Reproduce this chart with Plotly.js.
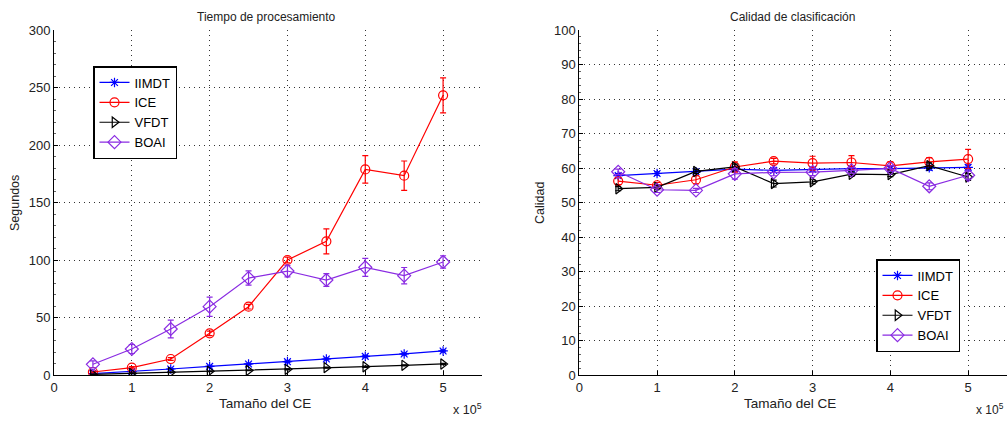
<!DOCTYPE html>
<html>
<head>
<meta charset="utf-8">
<script src="https://cdn.plot.ly/plotly-3.0.1.min.js"></script>
<style>html,body{margin:0;padding:0;background:#fff;} #chart{width:1007px;height:421px;}</style>
</head>
<body>
<div id="chart"></div>
<script>
// ---- data ----
const sizes = [0.5, 1, 1.5, 2, 2.5, 3, 3.5, 4, 4.5, 5];
const seriesNames = ['IIMDT', 'ICE', 'VFDT', 'BOAI'];

const tiempoIIMDT = [1.2, 2.9, 5.2, 7.5, 9.6, 11.6, 13.9, 16.2, 18.3, 20.9];
const tiempoICE   = [2.6, 6.4, 13.9, 36.2, 59.4, 100.0, 116.2, 178.8, 173.3, 243.2];
const tiempoVFDT  = [0.5, 1.4, 2.3, 3.2, 4.0, 4.9, 6.4, 7.2, 8.4, 9.6];
const tiempoBOAI  = [9.3, 22.6, 40.0, 59.4, 84.3, 90.4, 82.6, 93.6, 86.4, 98.3];

const tiempoErrIIMDT = [0.3, 0.4, 0.5, 0.5, 0.6, 0.6, 0.7, 0.7, 0.8, 0.8];
const tiempoErrICE   = [0.8, 1.0, 1.2, 2.0, 2.0, 2.5, 10.9, 12.0, 12.8, 15.2];
const tiempoErrVFDT  = [0.2, 0.2, 0.3, 0.3, 0.3, 0.4, 0.4, 0.5, 0.5, 0.5];
const tiempoErrBOAI  = [3.0, 3.9, 7.7, 8.4, 6.2, 5.0, 5.5, 7.8, 7.1, 5.4];

const calidadIIMDT = [57.8, 58.4, 58.9, 59.7, 59.3, 59.6, 59.8, 59.8, 60.1, 60.2];
const calidadICE   = [56.2, 55.0, 56.6, 60.3, 62.0, 61.4, 61.6, 60.6, 61.8, 62.6];
const calidadVFDT  = [54.0, 54.4, 59.0, 60.3, 55.5, 56.0, 58.2, 58.1, 60.7, 57.4];
const calidadBOAI  = [58.9, 53.7, 53.5, 58.3, 58.75, 58.8, 59.3, 59.9, 54.7, 57.9];

const calidadErrIIMDT = [0.6, 0.5, 0.5, 0.6, 0.6, 0.5, 0.6, 0.6, 0.7, 0.7];
const calidadErrICE   = [1.0, 0.8, 1.2, 1.5, 0.8, 2.0, 2.0, 1.2, 1.2, 2.8];
const calidadErrVFDT  = [0.6, 0.6, 0.6, 0.8, 1.0, 0.6, 0.6, 0.6, 0.8, 1.0];
const calidadErrBOAI  = [0.8, 0.8, 0.6, 1.5, 1.0, 1.0, 0.8, 0.8, 1.0, 1.2];

const xTickVals = [0, 1, 2, 3, 4, 5];
const tiempoTicks = [0, 50, 100, 150, 200, 250, 300];
const calidadTicks = [0, 10, 20, 30, 40, 50, 60, 70, 80, 90, 100];

// ---- styles ----
const colors = ['#0000ff', '#ff0000', '#000000', '#8a2be2'];
const symbols = ['asterisk-open', 'circle-open', 'triangle-right-open', 'diamond-open'];
const msizes = [8, 9, 9, 10];

const tiempoY = [tiempoIIMDT, tiempoICE, tiempoVFDT, tiempoBOAI];
const tiempoE = [tiempoErrIIMDT, tiempoErrICE, tiempoErrVFDT, tiempoErrBOAI];
const calidadY = [calidadIIMDT, calidadICE, calidadVFDT, calidadBOAI];
const calidadE = [calidadErrIIMDT, calidadErrICE, calidadErrVFDT, calidadErrBOAI];

const traces = [];
function addTraces(ys, es, xa, ya, leg) {
  for (let i = 0; i < 4; i++) {
    traces.push({
      type: 'scatter', mode: 'lines+markers',
      x: sizes, y: ys[i], name: seriesNames[i],
      xaxis: xa, yaxis: ya, legend: leg,
      line: {color: colors[i], width: 1.2},
      marker: {symbol: symbols[i], size: msizes[i], color: colors[i], line: {color: colors[i], width: 1.2}},
      error_y: {type: 'data', array: es[i], visible: true, color: colors[i], thickness: 1.2, width: 3}
    });
  }
}
addTraces(tiempoY, tiempoE, 'x', 'y', 'legend');
addTraces(calidadY, calidadE, 'x2', 'y2', 'legend2');

const W = 1007, H = 421;
const plotTop = 30, plotBottom = 375;
const yd = [1 - plotBottom / H, 1 - plotTop / H];
const fontFam = 'Liberation Sans, Arial, Helvetica, sans-serif';

function xax(dom) {
  return {
    domain: dom, range: [0, 5.5], tickvals: xTickVals, ticks: 'inside', ticklen: 4,
    tickcolor: '#000', showline: true, linecolor: '#000', linewidth: 1,
    showgrid: true, gridcolor: '#333', gridwidth: 1, griddash: '1px,4px',
    zeroline: false, tickfont: {size: 13, color: '#222'}, fixedrange: true
  };
}
function yax(anchor, range, ticks, minorDt) {
  return {
    domain: yd, anchor: anchor, range: range, tickvals: ticks, ticks: 'inside', ticklen: 4,
    tickcolor: '#000', showline: true, linecolor: '#000', linewidth: 1,
    showgrid: true, gridcolor: '#333', gridwidth: 1, griddash: '1px,4px',
    zeroline: false, tickfont: {size: 13, color: '#222'},
    minor: {dtick: minorDt, ticks: 'inside', ticklen: 2, tickcolor: '#666', showgrid: false}
  };
}

const xL = [54 / W, 482 / W];
const xR = [579.3 / W, 1];

function ann(text, px, py, size, extra) {
  return Object.assign({text: text, xref: 'paper', yref: 'paper', x: px / W, y: 1 - py / H,
    xanchor: 'center', yanchor: 'middle', showarrow: false, font: {size: size, color: '#222'}}, extra || {});
}

const layout = {
  width: W, height: H,
  margin: {l: 0, r: 0, t: 0, b: 0},
  paper_bgcolor: '#fff', plot_bgcolor: '#fff',
  font: {family: fontFam, color: '#222'},
  showlegend: true,
  xaxis: Object.assign(xax(xL), {anchor: 'y'}),
  yaxis: yax('x', [0, 300], tiempoTicks, 10),
  xaxis2: Object.assign(xax(xR), {anchor: 'y2'}),
  yaxis2: yax('x2', [0, 100], calidadTicks, 2),
  legend: {
    x: 93 / W, y: 1 - 66 / H, xanchor: 'left', yanchor: 'top',
    bgcolor: '#fff', bordercolor: '#000', borderwidth: 1.5, entrywidth: 50,
    font: {size: 13, color: '#000', family: fontFam}
  },
  legend2: {
    x: 876 / W, y: 1 - 259 / H, xanchor: 'left', yanchor: 'top',
    bgcolor: '#fff', bordercolor: '#000', borderwidth: 1.5, entrywidth: 50,
    font: {size: 13, color: '#000', family: fontFam}
  },
  annotations: [
    ann('Tiempo de procesamiento', 266, 17, 12),
    ann('Calidad de clasificación', 792, 17, 12),
    ann('Tamaño del CE', 265, 403, 13.5),
    ann('Tamaño del CE', 790, 403, 13.5),
    ann('x 10<sup>5</sup>', 451, 409, 12.5, {xanchor: 'left'}),
    ann('x 10<sup>5</sup>', 974, 409, 12, {xanchor: 'left'}),
    ann('Segundos', 15, 203, 12.5, {textangle: -90}),
    ann('Calidad', 540, 203, 12.5, {textangle: -90})
  ]
};

Plotly.newPlot('chart', traces, layout, {displayModeBar: false, staticPlot: true});
</script>
</body>
</html>
